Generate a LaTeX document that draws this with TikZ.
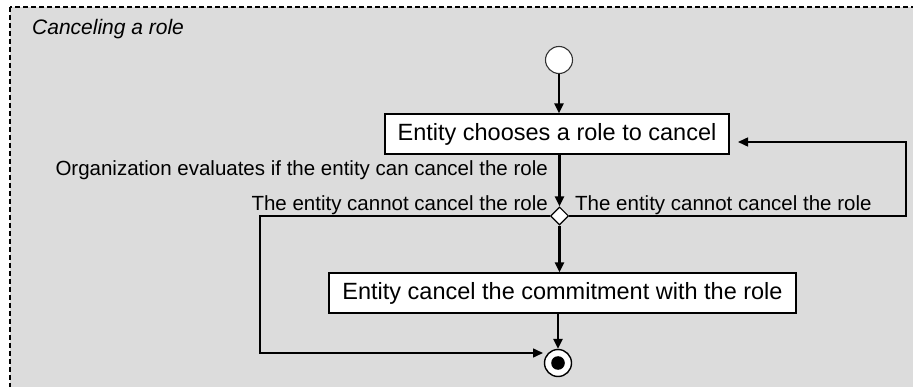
\documentclass[tikz,border=0pt]{standalone}
\usepackage{fontspec}
\setmainfont{Liberation Sans}
\usetikzlibrary{arrows.meta,shapes.geometric}

\definecolor{panel}{HTML}{DCDCDC}

\tikzset{
  action/.style={draw=black, line width=1.1pt, fill=white, inner sep=0pt,
    minimum height=40pt, font=\fontsize{23.5}{26}\selectfont},
  guard/.style={font=\fontsize{20.5}{24}\selectfont, inner sep=0pt},
  flow/.style={line width=2.3pt, -{Triangle[length=10pt,width=9pt]}},
  back/.style={line width=1.5pt, -{Triangle[length=10pt,width=9pt]}},
  initial/.style={circle, draw=black!80, line width=1.1pt, fill=white,
    minimum size=27pt, inner sep=0pt},
  final/.style={circle, draw=black, line width=1.4pt, fill=white,
    minimum size=27pt, inner sep=0pt},
  decision/.style={diamond, draw=black, line width=1.1pt, fill=white,
    minimum width=18pt, minimum height=18pt, inner sep=0pt}
}

\begin{document}
\begin{tikzpicture}[x=1pt, y=-1pt]
  \useasboundingbox (0,0) rectangle (913,387);
  \clip (0,0) rectangle (913,387);
  \fill[white] (0,0) rectangle (913,387);

  % activity frame (runs off the right and bottom)
  \draw[fill=panel, line width=1.9pt, dash pattern=on 5pt off 3pt]
    (10,7) rectangle (940,410);
  \node[guard, anchor=base west, font=\fontsize{21}{24}\selectfont\itshape]
    (title) at (32,35) {Canceling a role};

  % nodes
  \node[initial] (start) at (559,60) {};
  \node[action, minimum width=344pt] (box1) at (557,134)
    {Entity chooses a role to cancel};
  \node[decision] (dia) at (559.5,216) {};
  \node[action, minimum width=467pt] (box2) at (562.5,293)
    {Entity cancel the commitment with the role};
  \node[final] (end) at (558,363) {};
  \fill (end) circle (6.8pt);

  % guard texts
  \node[guard, anchor=base east] (eval) at (548,176)
    {Organization evaluates if the entity can cancel the role};
  \node[guard, anchor=base east] (gleft) at (548,210.5)
    {The entity cannot cancel the role};
  \node[guard, anchor=base west] (gright) at (575,210.5)
    {The entity cannot cancel the role};

  % bend points of the two return paths
  \coordinate (rc) at (906,142);
  \coordinate (rin) at (738,142);
  \coordinate (lc) at (260,353);
  \coordinate (lin) at (543,353);

  % connectors
  \draw[flow] (start.south) -- (start.south |- box1.north);
  \draw[flow] (dia.north |- box1.south) -- (dia.north);
  \draw[flow] (dia.south) -- (dia.south |- box2.north);
  \draw[flow] (end.north |- box2.south) -- (end.north);
  \draw[back] (dia.east) -| (rc) -- (rin);
  \draw[back] (dia.west) -| (lc) -- (lin);
\end{tikzpicture}
\end{document}
